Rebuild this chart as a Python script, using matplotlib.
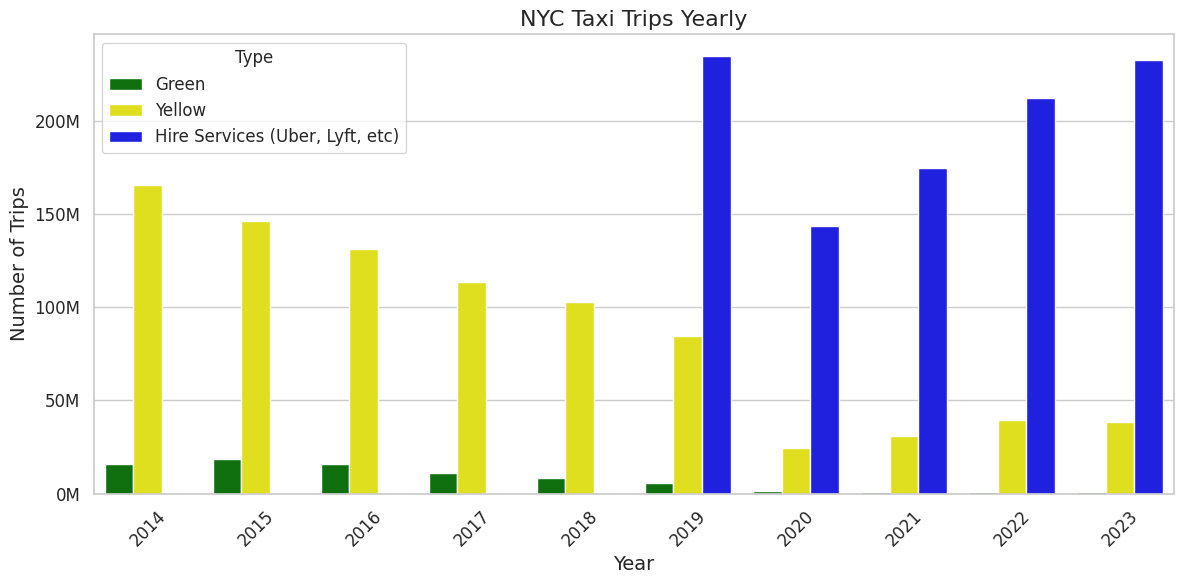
import pandas as pd
import matplotlib
matplotlib.use("Agg")
import matplotlib.pyplot as plt
import matplotlib.ticker as mticker
import seaborn as sns

sns.set_theme(style="whitegrid")

years = [2014, 2015, 2016, 2017, 2018, 2019, 2020, 2021, 2022, 2023]
green = [15.6e6, 18.6e6, 16.1e6, 11.2e6, 8.5e6, 5.8e6, 1.6e6, 0.9e6, 0.8e6, 0.8e6]
yellow = [165.6e6, 146.0e6, 131.2e6, 113.4e6, 102.8e6, 84.4e6, 24.6e6, 30.9e6, 39.6e6, 38.3e6]
hire = [0, 0, 0, 0, 0, 234.6e6, 143.5e6, 174.7e6, 212.4e6, 232.8e6]
types = ["Green", "Yellow", "Hire Services (Uber, Lyft, etc)"]

rows = []
for i, y in enumerate(years):
    rows.append((y, types[0], green[i]))
    rows.append((y, types[1], yellow[i]))
    rows.append((y, types[2], hire[i]))
df = pd.DataFrame(rows, columns=["Year", "Type", "Trips"])

fig, ax = plt.subplots(figsize=(12, 6), dpi=100)
sns.barplot(data=df, x="Year", y="Trips", hue="Type", hue_order=types,
            palette=["green", "yellow", "blue"], ax=ax)

ax.yaxis.set_major_formatter(mticker.FuncFormatter(lambda v, p: f"{v/1e6:.0f}M"))
ax.set_title("NYC Taxi Trips Yearly", fontsize=16)
ax.set_xlabel("Year", fontsize=14)
ax.set_ylabel("Number of Trips", fontsize=14)
ax.tick_params(axis="both", labelsize=12)
plt.xticks(rotation=45)
ax.legend(title="Type", fontsize=12, title_fontsize=12, loc="upper left")

plt.tight_layout()
plt.savefig("out.png", bbox_inches="tight")
